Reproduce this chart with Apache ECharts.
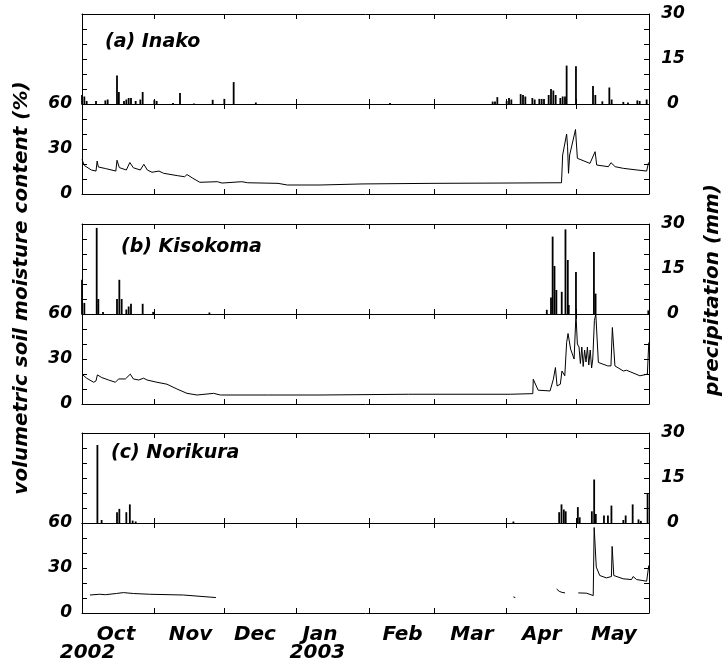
<!DOCTYPE html>
<html><head><meta charset="utf-8">
<script src="https://cdn.jsdelivr.net/npm/echarts@6/dist/echarts.min.js"></script>
<style>html,body{margin:0;padding:0;background:#fff}#c{width:725px;height:665px}</style>
</head><body><div id="c"></div>
<script>
// x values are days after 2002-10-01 (day 0 = 1 Oct 2002, day 243 = 1 Jun 2003)
const monthTickDays = [0, 31, 61, 92, 123, 151, 182, 212, 243];
const monthLabels = ['Oct', 'Nov', 'Dec', 'Jan', 'Feb', 'Mar', 'Apr', 'May'];
const monthLabelDays = [14.6, 46.5, 74.1, 102, 137.4, 167.1, 197.1, 228];
const yearLabels = ['2002', '2003'];
const yearLabelDays = [2.4, 100.9];
const precipTickLabels = [0, 15, 30];
const soilTickLabels = [0, 30, 60];
const panelTitles = ['(a) Inako', '(b) Kisokoma', '(c) Norikura'];
const leftAxisName = 'volumetric soil moisture content (%)';
const rightAxisName = 'precipitation (mm)';

// (a) Inako
const inakoPrecipDays = [0,1,2,6,10,11,15,15.8,18,19,20,21,23,25,26,31,32,39,42,48,56,61,65,74.5,132,176,177,178,182,183,184,188,189,190,193,194,196,197,198,200,201,202,203,205,206,207,207.7,211.7,219,220,223,226,227,232,234,238,239,242];
const inakoPrecipMm   = [3,2.5,1,1,1.2,1.5,9.5,4,1,1.5,2,2,1,1.5,4,1.3,1,0.3,3.7,0.2,1.4,1.7,7.3,0.5,0.3,0.8,0.8,2.3,1,2,1.5,3.3,3,2.5,2,1.5,1.7,1.7,1.7,3,5,4.5,3,2,2.5,2.5,12.8,12.6,6,3,0.9,5.5,1.5,0.7,0.5,1.2,1,1.5];
const inakoSoilDays = [0,1,4,6,6.5,7,10,14.5,15,16,19,20.5,22,25,26.5,28,30,33,35,41,44,45,47.5,50.5,58,60,68.5,71,84,88,102,120,150,180,205.5,206,206.8,207.7,208.1,208.5,209,211.5,212.3,217.7,219.9,220.6,225.6,226.7,228.5,232,232.8,237.9,242,242.8];
const inakoSoilPct  = [23,19,16,15.3,22,18,17,15.3,22.5,17.6,16,21,17.5,16,19.8,16,14.5,15.3,13.8,12.2,11.5,13,10.5,7.8,8.2,7.3,8.2,7.5,7.1,6,6,6.7,7.1,7.3,7.5,26,27,40,31.5,13.8,26,43,23.8,20.4,28.2,19.3,18.2,20.9,18.2,17.1,18.2,16,15.3,21];

// (b) Kisokoma
const kisoPrecipDays = [0,1,6.3,7,9,15,16,17,19,20,21,26,30.5,54.6,199.2,201,201.7,202.5,203.3,205.6,207.2,208.2,208.6,211.7,219.4,220.1,242.7];
const kisoPrecipMm   = [11.4,3.7,28.7,5,0.7,5,11.4,5,1.5,2.5,3.4,3.4,0.7,0.5,1.4,5.5,25.8,16,8,7.4,28.2,18,3,14,20.7,6.8,1.2];
const kisoSoilDays = [0,2,5,6,6.6,8.5,11.4,14.3,15.7,16.4,18.6,20.7,22,24.3,26.4,27.9,32.1,36.4,40.7,45,49.3,56.4,59.3,80,102,140,183.5,184,193.2,193.4,195.5,200.6,202,202.9,203.6,205,205.7,206.9,207.7,208.3,209.4,210.9,211.7,212.3,213,213.6,214.2,214.8,215.4,216,216.6,217.2,217.8,218.4,218.9,219.6,220.2,221.3,225.3,226.7,227.3,228.4,232,233.4,239.1,242.3,242.9];
const kisoSoilPct  = [19.9,17.2,14.5,15.4,19.4,17.6,16,14.5,16.7,17.6,16.7,19.9,16.7,16,17.2,16,14.5,13.2,10,7.1,6,7.1,6,6,6,6.5,6.5,6.9,6.9,16.5,9.2,8.7,16.5,24.3,12,13.2,22,18.8,41,47,36.6,30,60,40,38,27,38,25,36,28,38,26,36,24,30,55.6,60,27.7,25.4,25.4,51,25.4,22,22.5,18.8,19.9,41];

// (c) Norikura
const noriPrecipDays = [6.6,8.4,15,16,19,20.5,21.7,23,184.9,204.5,205.5,206.5,207.3,212.5,213.3,218.5,219.5,220.2,223.7,225.4,226.9,232,233,236,238.5,239.5,242.4];
const noriPrecipMm   = [26,1,3.6,4.7,3.6,6.2,0.8,0.5,0.5,3.6,6.2,4.5,3.9,5.3,1.9,3.9,14.5,3,2.5,2.5,5.8,1,2.5,6.2,1.2,0.7,9.8];
const noriSoilDays = [3.4,7.6,10,14.7,17.7,22,29,43.4,57.4,58,184.9,185.7,186,203.4,204.5,205.6,206,207,207.5,212.7,216.3,219.1,219.5,220.1,220.4,221.9,224.7,226.9,227.2,227.9,231.9,235.5,236.2,237.7,242,242.9];
const noriSoilPct  = [12,12.5,12.2,13,13.6,13,12.5,12,10.3,null,10.7,10.3,null,16,14.5,13.8,15,13.4,null,13.4,13.2,11.6,57,57,30.6,25,23.4,24.3,44.4,25,22.8,22.3,24.3,22.3,21.2,31.7];

const panels = [
  {pd: inakoPrecipDays, pv: inakoPrecipMm, sd: inakoSoilDays, sv: inakoSoilPct},
  {pd: kisoPrecipDays, pv: kisoPrecipMm, sd: kisoSoilDays, sv: kisoSoilPct},
  {pd: noriPrecipDays, pv: noriPrecipMm, sd: noriSoilDays, sv: noriSoilPct}
];
const zip = (a, b) => a.map((d, i) => [d, b[i]]);

const FONT = '"DejaVu Sans", "Liberation Sans", sans-serif';
const txt = (size) => ({fontFamily: FONT, fontWeight: 'bold', fontStyle: 'italic', fontSize: size, color: '#000'});
const lineCol = '#000';
const tops = [14, 224, 433];
const half = 90;

const grids = [], xAxes = [], yAxes = [], series = [];
tops.forEach(t => {
  grids.push({left: 82, right: 76, top: t, height: half});
  grids.push({left: 82, right: 76, top: t + half, height: half});
});

function xAx(g, pos) {
  return {
    type: 'value', gridIndex: g, position: pos, min: 0, max: 243,
    axisLine: {show: true, onZero: false, lineStyle: {color: lineCol, width: 1}},
    axisTick: {show: true, inside: true, length: 5, customValues: monthTickDays, lineStyle: {color: lineCol, width: 1}},
    axisLabel: {show: false},
    splitLine: {show: false}
  };
}
function yAx(g, pos, max, interval, labels) {
  return {
    type: 'value', gridIndex: g, position: pos, min: 0, max: max, interval: interval,
    axisLine: {show: true, onZero: false, lineStyle: {color: lineCol, width: 1}},
    axisTick: {show: true, inside: true, length: 5, lineStyle: {color: lineCol, width: 1}},
    axisLabel: labels ? Object.assign({
      show: true,
      margin: pos === 'left' ? 10 : 24,
      align: pos === 'left' ? 'right' : 'center',
      formatter: v => labels.indexOf(v) >= 0 ? String(v) : ''
    }, txt(17)) : {show: false},
    splitLine: {show: false}
  };
}
for (let g = 0; g < 6; g++) {
  xAxes.push(xAx(g, 'bottom'));
  xAxes.push(xAx(g, 'top'));
  const upper = g % 2 === 0;
  if (upper) {
    yAxes.push(yAx(g, 'right', 30, 5, precipTickLabels));
    yAxes.push(yAx(g, 'left', 30, 5, null));
  } else {
    yAxes.push(yAx(g, 'left', 60, 10, soilTickLabels));
    yAxes.push(yAx(g, 'right', 60, 10, null));
  }
}
// month labels on bottom axis of last grid
const nearestIdx = (arr, v) => { let b = 0; arr.forEach((a, i) => { if (Math.abs(a - v) < Math.abs(arr[b] - v)) b = i; }); return b; };
xAxes[10].axisLabel = Object.assign({
  show: true, margin: 12, customValues: monthLabelDays,
  formatter: v => monthLabels[nearestIdx(monthLabelDays, v)]
}, txt(20));
// year labels
xAxes.push({
  type: 'value', gridIndex: 5, position: 'bottom', offset: 18, min: 0, max: 243,
  axisLine: {show: false}, axisTick: {show: false}, splitLine: {show: false},
  axisLabel: Object.assign({
    show: true, margin: 12, customValues: yearLabelDays,
    formatter: v => yearLabels[nearestIdx(yearLabelDays, v)]
  }, txt(20))
});

panels.forEach((p, i) => {
  series.push({
    type: 'bar', xAxisIndex: 4 * i, yAxisIndex: 4 * i, barWidth: 1.8,
    itemStyle: {color: '#000'}, data: zip(p.pd, p.pv)
  });
  series.push({
    type: 'line', xAxisIndex: 4 * i + 2, yAxisIndex: 4 * i + 2, symbol: 'none', showSymbol: false,
    connectNulls: false, lineStyle: {color: '#000', width: 1}, data: zip(p.sd, p.sv)
  });
});

const titleLeft = [105, 121, 111];
const titleTop = [33, 238, 444];
const option = {
  animation: false,
  backgroundColor: '#fff',
  title: panelTitles.map((t, i) => ({text: t, left: titleLeft[i], top: titleTop[i], padding: 0, textStyle: txt(19)})),
  grid: grids, xAxis: xAxes, yAxis: yAxes, series: series,
  graphic: [
    {type: 'text', x: 22, y: 288, rotation: Math.PI / 2,
     style: {text: leftAxisName, x: 0, y: 0, align: 'center', verticalAlign: 'middle', font: 'italic bold 20px ' + FONT, fill: '#000'}},
    {type: 'text', x: 713, y: 290, rotation: Math.PI / 2,
     style: {text: rightAxisName, x: 0, y: 0, align: 'center', verticalAlign: 'middle', font: 'italic bold 20px ' + FONT, fill: '#000'}}
  ]
};
const chart = echarts.init(document.getElementById('c'), null, {renderer: 'canvas'});
chart.setOption(option);
</script>
</body></html>
